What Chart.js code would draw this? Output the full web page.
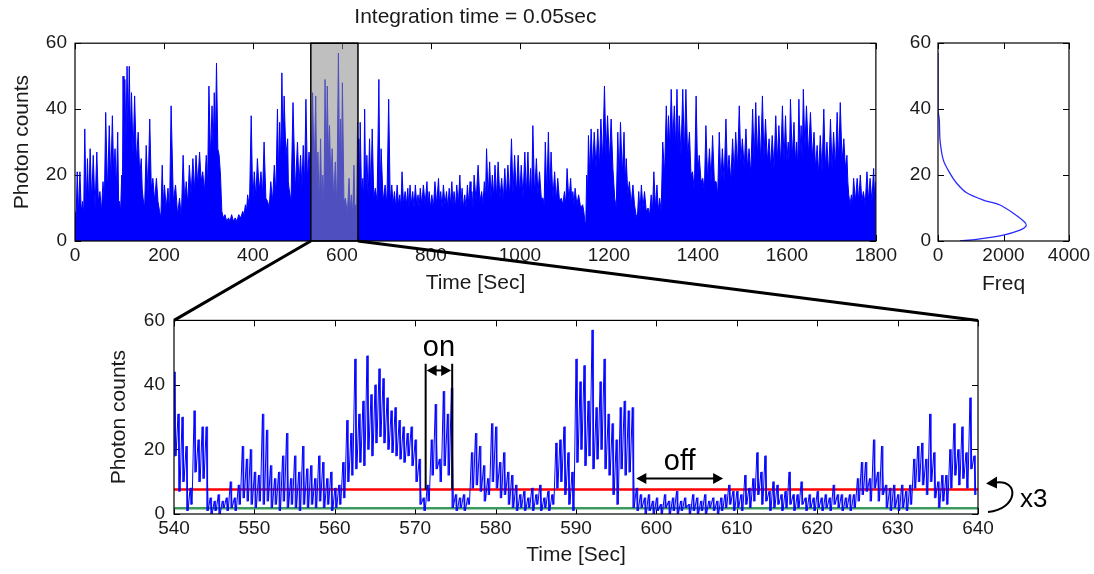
<!DOCTYPE html>
<html>
<head>
<meta charset="utf-8">
<script src="https://cdn.jsdelivr.net/npm/chart.js@4.4.0/dist/chart.umd.min.js"></script>
<style>
  html, body { margin: 0; padding: 0; background: #fff; }
  #wrap { position: relative; width: 1094px; height: 574px; overflow: hidden; }
  canvas { position: absolute; }
</style>
</head>
<body>
<div id="wrap">
  <canvas id="trace" width="900" height="300" style="left:0;top:0"></canvas>
  <canvas id="hist" width="199" height="300" style="left:895px;top:0"></canvas>
  <canvas id="zoom" width="1094" height="274" style="left:0;top:300px"></canvas>
  <canvas id="links" width="1094" height="574" style="left:0;top:0"></canvas>
</div>
<script>
// full trace: time of each burst peak (s), the peak count and the floor right after it
const topT = [
  0, 5, 11, 17, 22, 28, 34, 41, 49, 56,
  63, 69, 77, 84, 90, 96, 100, 105, 108, 112,
  117, 122, 127, 134, 142, 149, 153, 160, 168, 175,
  183, 190, 196, 201, 209, 216, 226, 235, 243, 250,
  257, 265, 272, 280, 287, 295, 301, 308, 313, 318,
  324, 330, 337, 345, 352, 360, 368, 377, 383, 388,
  396, 403, 410, 418, 425, 433, 440, 448, 455, 460,
  465, 470, 478, 481, 490, 500, 507, 513, 519, 526,
  534, 541, 546, 552, 557, 562, 567, 572, 578, 585,
  592, 597, 601, 608, 616, 621, 627, 631, 635, 638,
  641, 647, 651, 656, 662, 668, 675, 683, 688, 697,
  705, 712, 718, 724, 730, 735, 742, 748, 753, 759,
  765, 771, 776, 783, 791, 796, 802, 809, 817, 822,
  828, 835, 841, 847, 852, 858, 865, 870, 876, 882,
  888, 892, 897, 906, 914, 920, 925, 932, 938, 944,
  951, 959, 966, 973, 981, 988, 996, 1003, 1011, 1018,
  1024, 1029, 1037, 1044, 1052, 1057, 1064, 1070, 1078, 1085,
  1093, 1100, 1106, 1114, 1119, 1124, 1132, 1141, 1146, 1150,
  1154, 1160, 1167, 1175, 1182, 1190, 1197, 1205, 1213, 1220,
  1226, 1234, 1239, 1246, 1254, 1261, 1267, 1273, 1280, 1288,
  1295, 1301, 1308, 1314, 1321, 1329, 1334, 1340, 1347, 1353,
  1358, 1366, 1373, 1381, 1388, 1396, 1403, 1411, 1418, 1426,
  1433, 1441, 1448, 1455, 1463, 1470, 1478, 1485, 1493, 1500,
  1508, 1515, 1523, 1530, 1537, 1545, 1552, 1560, 1567, 1575,
  1582, 1590, 1597, 1603, 1608, 1616, 1622, 1627, 1632, 1637,
  1644, 1653, 1661, 1668, 1675, 1683, 1690, 1698, 1705, 1713,
  1720, 1728, 1735, 1739, 1745, 1750, 1758, 1765, 1772, 1780,
  1787, 1795, 1800
];
const topHi = [
  9, 21, 21, 12, 34, 25, 28, 26, 27, 15,
  18, 39, 35, 38, 28, 33, 12, 20, 50, 49,
  53, 53, 45, 44, 33, 25, 13, 29, 37, 19,
  19, 9, 23, 17, 16, 41, 17, 13, 26, 18,
  23, 25, 26, 27, 21, 26, 47, 41, 45, 54,
  26, 9, 8, 7, 8, 7, 8, 9, 11, 14,
  38, 21, 25, 21, 30, 12, 18, 23, 40, 36,
  51, 44, 31, 16, 42, 30, 26, 29, 43, 27,
  45, 44, 27, 31, 20, 49, 47, 35, 28, 24,
  57, 37, 48, 13, 19, 14, 23, 11, 36, 31,
  36, 19, 40, 26, 31, 34, 16, 49, 28, 17,
  43, 17, 15, 17, 14, 21, 15, 16, 17, 15,
  17, 14, 16, 17, 18, 15, 14, 18, 19, 15,
  17, 15, 16, 18, 15, 17, 20, 16, 14, 17,
  18, 15, 20, 23, 15, 18, 28, 24, 20, 23,
  24, 19, 22, 23, 31, 26, 26, 23, 27, 27,
  22, 35, 25, 21, 13, 30, 33, 27, 21, 19,
  13, 15, 22, 19, 15, 16, 14, 11, 6, 20,
  32, 34, 33, 34, 37, 47, 38, 37, 13, 33,
  36, 33, 25, 18, 17, 8, 15, 17, 15, 10,
  14, 21, 17, 13, 30, 41, 38, 46, 41, 46,
  38, 46, 46, 33, 21, 44, 26, 19, 35, 28,
  32, 18, 33, 28, 37, 26, 31, 33, 41, 31,
  34, 28, 40, 42, 38, 44, 37, 31, 32, 38,
  35, 41, 38, 30, 43, 36, 30, 43, 35, 46,
  41, 39, 33, 29, 32, 40, 30, 37, 33, 39,
  42, 31, 26, 14, 14, 19, 19, 20, 15, 21,
  19, 22, 18
];
const topLo = [
  7, 8, 9, 8, 10, 11, 12, 10, 12, 9,
  12, 15, 18, 20, 16, 12, 9, 10, 26, 30,
  34, 32, 26, 24, 20, 16, 10, 14, 16, 12,
  12, 7, 11, 10, 9, 12, 8, 7, 12, 11,
  14, 15, 17, 18, 15, 17, 25, 28, 30, 28,
  20, 7, 6, 6, 6, 6, 7, 8, 9, 10,
  12, 13, 15, 14, 13, 10, 12, 14, 20, 24,
  28, 26, 18, 12, 15, 17, 16, 17, 18, 18,
  20, 15, 10, 10, 11, 22, 25, 18, 12, 10,
  24, 20, 12, 8, 9, 8, 10, 9, 15, 14,
  14, 12, 14, 13, 14, 13, 12, 14, 12, 11,
  12, 11, 10, 11, 10, 11, 11, 10, 11, 10,
  11, 10, 11, 11, 11, 10, 10, 11, 11, 10,
  11, 10, 11, 11, 10, 11, 11, 10, 10, 11,
  11, 10, 12, 12, 11, 12, 13, 13, 13, 13,
  13, 12, 13, 13, 14, 14, 14, 13, 14, 14,
  13, 14, 14, 13, 11, 14, 14, 13, 12, 12,
  11, 11, 12, 12, 11, 11, 10, 9, 5, 14,
  20, 22, 22, 22, 24, 26, 24, 22, 10, 18,
  20, 18, 14, 11, 11, 7, 9, 10, 9, 8,
  9, 10, 9, 9, 20, 28, 28, 30, 28, 28,
  26, 26, 25, 20, 15, 20, 18, 15, 18, 18,
  18, 14, 18, 18, 20, 18, 20, 22, 24, 22,
  22, 20, 24, 25, 24, 25, 24, 22, 22, 24,
  23, 24, 24, 22, 25, 24, 22, 26, 24, 28,
  26, 25, 22, 20, 21, 22, 20, 22, 22, 24,
  24, 22, 18, 11, 11, 12, 12, 12, 11, 12,
  12, 12, 11
];

// zoomed window 540-640 s, sampled every 0.5 s: local max and the dip after it
const botStart = 540;
const botStep = 0.5;
const botPeak = [
  44, 31, 30, 21, 8, 32, 23, 27, 27, 5, 4, 6, 4, 5, 10, 5, 9, 21, 17, 20,
  13, 12, 31, 26, 15, 11, 13, 18, 25, 11, 18, 13, 21, 14, 15, 11, 18, 16, 11, 13,
  8, 9, 16, 29, 25, 48, 31, 35, 49, 37, 40, 45, 42, 36, 32, 33, 29, 27, 25, 27,
  23, 17, 5, 9, 23, 34, 17, 38, 31, 39, 6, 5, 6, 5, 19, 25, 21, 15, 11, 28,
  27, 16, 19, 13, 12, 9, 6, 7, 5, 8, 6, 9, 5, 7, 6, 22, 23, 27, 19, 13,
  48, 41, 46, 35, 57, 33, 41, 48, 31, 28, 23, 33, 35, 32, 33, 8, 6, 5, 6, 4,
  5, 3, 6, 4, 5, 7, 4, 5, 3, 6, 5, 4, 6, 4, 5, 4, 5, 6, 9, 7,
  7, 6, 12, 8, 11, 19, 13, 18, 7, 10, 9, 6, 7, 13, 6, 6, 10, 5, 6, 5,
  7, 5, 6, 5, 9, 6, 6, 5, 6, 6, 11, 16, 16, 11, 23, 13, 21, 9, 8, 9,
  6, 9, 7, 9, 17, 21, 22, 17, 31, 19, 10, 12, 12, 20, 28, 20, 27, 19, 36, 18
];
const botLow = [
  18, 7, 10, 1, 3, 13, 10, 11, 1, 0, 1, 0, 2, 1, 2, 1, 3, 5, 4, 3,
  2, 4, 3, 4, 2, 3, 1, 4, 2, 3, 2, 1, 3, 2, 3, 2, 4, 2, 3, 1,
  2, 3, 5, 10, 12, 14, 16, 15, 20, 18, 22, 24, 22, 20, 19, 18, 17, 16, 18, 15,
  10, 3, 1, 4, 12, 14, 10, 15, 12, 2, 1, 2, 1, 3, 8, 9, 7, 4, 6, 10,
  8, 5, 6, 3, 2, 1, 2, 1, 2, 1, 3, 1, 2, 1, 3, 8, 10, 6, 3, 1,
  16, 20, 15, 18, 14, 17, 20, 14, 12, 6, 3, 14, 12, 13, 2, 1, 2, 0, 1, 0,
  1, 0, 2, 0, 1, 0, 1, 2, 0, 1, 0, 1, 0, 2, 1, 0, 1, 2, 3, 1,
  2, 1, 3, 2, 4, 6, 3, 4, 1, 2, 3, 1, 2, 3, 1, 2, 3, 1, 2, 1,
  2, 1, 2, 1, 3, 2, 1, 2, 1, 2, 4, 6, 7, 4, 8, 4, 6, 2, 1, 2,
  1, 2, 1, 3, 8, 10, 9, 6, 10, 5, 2, 4, 3, 8, 12, 9, 11, 8, 14, 6
];

// intensity histogram (counts vs number of bins)
const histCount = [0, 0.5, 1.8, 3.3, 4.5, 5.6, 8.4, 10.9, 12.4, 14.6, 17.5, 20.5, 24.5, 30.6, 36.7, 39.7, 57];
const histFreq = [672, 1181, 1994, 2504, 2687, 2656, 2300, 1893, 1384, 875, 570, 366, 163, 61, 40, 0, 0];

const windowFrom = 530, windowTo = 636;   // shaded stretch of the full trace
const onLevel = 7.6;                      // threshold (red)
const bgLevel = 1.8;                      // background (green)
const onSpan = [571.3, 574.6];
const offSpan = [597.5, 608.3];

Chart.defaults.font.family = '"Liberation Sans", Arial, Helvetica, sans-serif';
Chart.defaults.color = '#1a1a1a';

const tickFont = { size: 19 };
const titleFont = { size: 21 };

// MATLAB style box: ticks pointing in on all four sides
const matlabTicks = {
  id: 'matlabTicks',
  beforeDatasetsDraw(chart) {
    const { ctx, chartArea: a, scales: { x, y } } = chart;
    ctx.save();
    ctx.strokeStyle = '#000';
    ctx.lineWidth = 1;
    ctx.beginPath();
    x.ticks.forEach(t => {
      const px = Math.round(x.getPixelForValue(t.value)) + 0.5;
      ctx.moveTo(px, a.bottom); ctx.lineTo(px, a.bottom - 6);
      ctx.moveTo(px, a.top); ctx.lineTo(px, a.top + 6);
    });
    y.ticks.forEach(t => {
      const py = Math.round(y.getPixelForValue(t.value)) + 0.5;
      ctx.moveTo(a.left, py); ctx.lineTo(a.left + 6, py);
      ctx.moveTo(a.right, py); ctx.lineTo(a.right - 6, py);
    });
    ctx.stroke();
    ctx.restore();
  },
  afterDraw(chart) {
    const { ctx, chartArea: a } = chart;
    ctx.save();
    ctx.strokeStyle = '#000';
    ctx.lineWidth = 1.2;
    ctx.strokeRect(a.left, a.top, a.right - a.left, a.bottom - a.top);
    ctx.restore();
  }
};

const windowShade = {
  id: 'windowShade',
  afterDatasetsDraw(chart) {
    const { ctx, scales: { x, y } } = chart;
    const l = x.getPixelForValue(windowFrom), r = x.getPixelForValue(windowTo);
    const t = y.getPixelForValue(60), b = y.getPixelForValue(0);
    ctx.save();
    ctx.fillStyle = 'rgba(140,140,140,0.56)';
    ctx.fillRect(l, t, r - l, b - t);
    ctx.strokeStyle = '#000';
    ctx.lineWidth = 1.5;
    ctx.strokeRect(l, t, r - l, b - t);
    ctx.restore();
  }
};

function arrowHead(ctx, x, y, dir) {
  ctx.beginPath();
  ctx.moveTo(x, y);
  ctx.lineTo(x - dir * 10, y - 5.5);
  ctx.lineTo(x - dir * 10, y + 5.5);
  ctx.closePath();
  ctx.fill();
}

function doubleArrow(ctx, xa, xb, y) {
  ctx.beginPath();
  ctx.moveTo(xa + 4, y);
  ctx.lineTo(xb - 4, y);
  ctx.stroke();
  arrowHead(ctx, xa, y, -1);
  arrowHead(ctx, xb, y, 1);
}

// on / off dwell markers and the x3 note
const dwellMarks = {
  id: 'dwellMarks',
  afterDraw(chart) {
    const { ctx, chartArea: a, scales: { x, y } } = chart;
    ctx.save();
    ctx.strokeStyle = '#000';
    ctx.fillStyle = '#000';
    ctx.lineWidth = 2;

    const x1 = x.getPixelForValue(onSpan[0]), x2 = x.getPixelForValue(onSpan[1]);
    ctx.beginPath();
    ctx.moveTo(x1, y.getPixelForValue(46.6)); ctx.lineTo(x1, y.getPixelForValue(onLevel));
    ctx.moveTo(x2, y.getPixelForValue(46.6)); ctx.lineTo(x2, y.getPixelForValue(onLevel));
    ctx.stroke();
    doubleArrow(ctx, x1 + 1, x2 - 1, y.getPixelForValue(44.5));

    const x3 = x.getPixelForValue(offSpan[0]), x4 = x.getPixelForValue(offSpan[1]);
    doubleArrow(ctx, x3, x4, y.getPixelForValue(11));

    ctx.font = '29px "Liberation Sans", Arial, sans-serif';
    ctx.textAlign = 'center';
    ctx.textBaseline = 'alphabetic';
    ctx.fillText('on', (x1 + x2) / 2, y.getPixelForValue(49));
    ctx.fillText('off', (x3 + x4) / 2, y.getPixelForValue(13.7));

    // curved arrow from the background level up to the threshold
    const r = a.right, yr = y.getPixelForValue(onLevel);
    ctx.beginPath();
    ctx.moveTo(r + 10, a.bottom - 2);
    ctx.bezierCurveTo(r + 40, a.bottom - 5, r + 42, yr - 10, r + 18, yr - 7);
    ctx.stroke();
    ctx.beginPath();
    ctx.moveTo(r + 8, yr - 6);
    ctx.lineTo(r + 19, yr - 13);
    ctx.lineTo(r + 19, yr - 1);
    ctx.closePath();
    ctx.fill();
    ctx.font = '26px "Liberation Sans", Arial, sans-serif';
    ctx.textAlign = 'left';
    ctx.fillText('x3', r + 42, a.bottom - 7);
    ctx.restore();
  }
};

function xAxis(min, max, step, title, titlePad, height) {
  return {
    type: 'linear', min: min, max: max,
    grid: { display: false, drawTicks: false },
    border: { display: false },
    ticks: { stepSize: step, font: tickFont, padding: 3, maxRotation: 0, autoSkip: false, color: '#1a1a1a', callback: v => String(v) },
    title: { display: true, text: title, font: titleFont, padding: { top: 0, bottom: titlePad }, color: '#1a1a1a' },
    afterFit: s => { s.height = height; }
  };
}

function yAxis(title, titlePad, width, tickPad) {
  return {
    type: 'linear', min: 0, max: 60,
    grid: { display: false, drawTicks: false },
    border: { display: false },
    ticks: { stepSize: 20, font: tickFont, padding: tickPad, color: '#1a1a1a', callback: v => String(v) },
    title: { display: !!title, text: title, font: titleFont, padding: { top: titlePad, bottom: 0 }, color: '#1a1a1a' },
    afterFit: s => { s.width = width; }
  };
}

const quiet = { legend: { display: false }, tooltip: { enabled: false } };

const tracePoints = [];
topT.forEach((t, i) => {
  tracePoints.push({ x: t, y: topHi[i] });
  if (i < topT.length - 1) tracePoints.push({ x: (t + topT[i + 1]) / 2, y: topLo[i] });
});

const traceChart = new Chart(document.getElementById('trace'), {
  type: 'line',
  data: {
    datasets: [{
      data: tracePoints,
      borderColor: '#0000ff',
      backgroundColor: '#0000ff',
      borderWidth: 1,
      fill: 'origin',
      pointRadius: 0,
      tension: 0
    }]
  },
  options: {
    responsive: false,
    animation: false,
    events: [],
    layout: { padding: { right: 21, left: 0, bottom: 0 } },
    plugins: Object.assign({}, quiet, {
      title: {
        display: true,
        text: 'Integration time = 0.05sec',
        fullSize: false,
        font: { size: 21, weight: 'normal' },
        color: '#1a1a1a',
        padding: { top: 5, bottom: 13 }
      }
    }),
    scales: {
      x: xAxis(0, 1800, 200, 'Time [Sec]', 4, 59),
      y: yAxis('Photon counts', 10, 75, 8)
    }
  },
  plugins: [matlabTicks, windowShade]
});

new Chart(document.getElementById('hist'), {
  type: 'line',
  data: {
    datasets: [{
      data: histFreq.map((f, i) => ({ x: f, y: histCount[i] })),
      borderColor: '#2a2aff',
      borderWidth: 1.3,
      pointRadius: 0,
      fill: false,
      tension: 0.3
    }]
  },
  options: {
    responsive: false,
    animation: false,
    events: [],
    layout: { padding: { top: 43, right: 25, left: 0, bottom: 0 } },
    plugins: quiet,
    scales: {
      x: xAxis(0, 4000, 2000, 'Freq', 3, 59),
      y: yAxis('', 0, 43, 7)
    }
  },
  plugins: [matlabTicks]
});

const zoomPoints = [];
const zoomSpans = [];
botPeak.forEach((v, i) => {
  const t = botStart + i * botStep;
  zoomPoints.push({ x: t, y: v }, { x: t + botStep / 2, y: botLow[i] });
  zoomSpans.push({ x: t + botStep / 4, y: [botLow[i], v] });
});

const zoomChart = new Chart(document.getElementById('zoom'), {
  type: 'line',
  data: {
    datasets: [
      { data: zoomPoints, borderColor: '#0000ff', borderWidth: 1, pointRadius: 0, fill: false, tension: 0 },
      { type: 'bar', data: zoomSpans, backgroundColor: 'rgba(0,0,255,0.85)', barThickness: 1.2, grouped: false },
      { data: [{ x: 540, y: onLevel }, { x: 640, y: onLevel }], borderColor: '#ff0000', borderWidth: 2.6, pointRadius: 0 },
      { data: [{ x: 540, y: bgLevel }, { x: 640, y: bgLevel }], borderColor: '#3c9a5f', borderWidth: 2.6, pointRadius: 0 }
    ]
  },
  options: {
    responsive: false,
    animation: false,
    events: [],
    layout: { padding: { top: 17, right: 116, left: 0, bottom: 0 } },
    plugins: quiet,
    scales: {
      x: Object.assign(xAxis(540, 640, 10, 'Time [Sec]', 6, 60), { offset: false }),
      y: yAxis('Photon counts', 107, 174, 9)
    }
  },
  plugins: [matlabTicks, dwellMarks]
});

// zoom guides from the shaded window down to the lower panel
(function drawLinks() {
  const ctx = document.getElementById('links').getContext('2d');
  const tx = traceChart.scales.x, ty = traceChart.scales.y;
  const zx = zoomChart.scales.x, zy = zoomChart.scales.y;
  const zoomTop = 300;
  ctx.strokeStyle = '#000';
  ctx.lineWidth = 3;
  ctx.beginPath();
  ctx.moveTo(tx.getPixelForValue(windowFrom), ty.getPixelForValue(0));
  ctx.lineTo(zx.getPixelForValue(540), zoomTop + zy.getPixelForValue(60));
  ctx.moveTo(tx.getPixelForValue(windowTo), ty.getPixelForValue(0));
  ctx.lineTo(zx.getPixelForValue(640), zoomTop + zy.getPixelForValue(60));
  ctx.stroke();
})();
</script>
</body>
</html>
